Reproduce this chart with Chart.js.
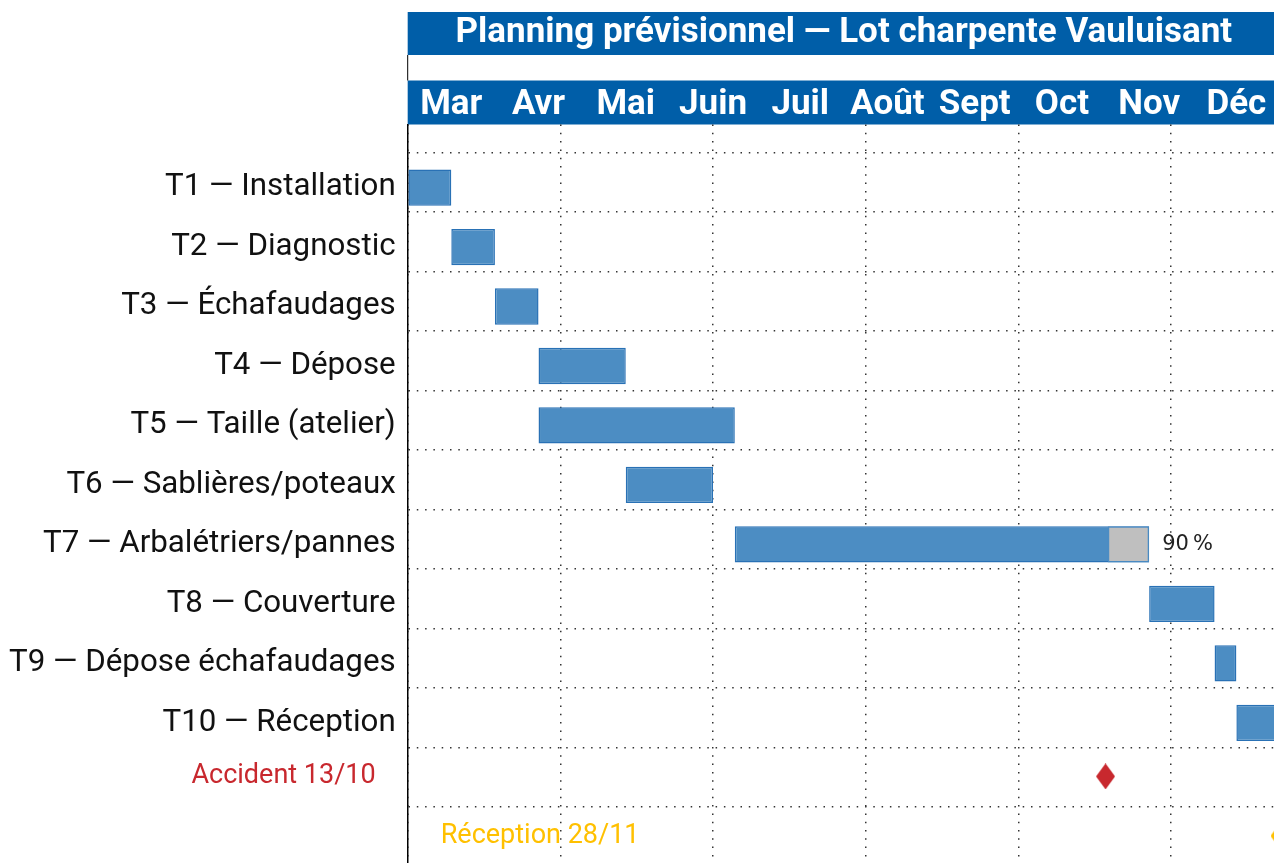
<!DOCTYPE html>
<html>
<head>
<meta charset="utf-8">
<script src="https://cdn.jsdelivr.net/npm/chart.js@4/dist/chart.umd.min.js"></script>
<style>
  html, body { margin: 0; padding: 0; overflow: hidden; background: #fff; }
</style>
</head>
<body>
<canvas id="gantt" width="1285" height="900"></canvas>
<script>
// DATA (axis unit = weeks from 1 March, 4 weeks per month column)
const title = 'Planning prévisionnel — Lot charpente Vauluisant';
const months = ['Mar', 'Avr', 'Mai', 'Juin', 'Juil', 'Août', 'Sept', 'Oct', 'Nov', 'Déc'];
const tasks = [
    'T1 — Installation',
    'T2 — Diagnostic',
    'T3 — Échafaudages',
    'T4 — Dépose',
    'T5 — Taille (atelier)',
    'T6 — Sablières/poteaux',
    'T7 — Arbalétriers/pannes',
    'T8 — Couverture',
    'T9 — Dépose échafaudages',
    'T10 — Réception',
];
const starts = [0, 2, 4, 6, 6, 10, 15, 34, 37, 38];
const ends = [2, 4, 6, 10, 15, 14, 34, 37, 38, 40];
const progress = [null, null, null, null, null, null, 0.9, null, null, null];

const accidentLabel = 'Accident 13/10';
const accidentWeek = 32;
const accidentRow = 9.9;
const receptionLabel = 'Réception 28/11';
const receptionWeek = 40;
const receptionRow = 10.9;

//------------------------------------------------------------------
// STYLE
Chart.defaults.font.family = 'Roboto';
const bandBlue = '#005EA8';
const barFill = 'rgb(76, 141, 195)';
const barEdge = 'rgb(41, 113, 181)';
const dotColor = '#333333';
const dots = [1.5, 6.8];
const red = '#C8282E';
const yellow = '#FFC000';

// row grid lines sit a bit above each bar row
const rowCount = tasks.length + 2;
const gridRows = [];
for (let k = 0; k < rowCount; k++) {
    gridRows.push(k - 0.59);
}

function diamond(color, w, h) {
    const c = document.createElement('canvas');
    c.width = w;
    c.height = h;
    const g = c.getContext('2d');
    g.fillStyle = color;
    g.beginPath();
    g.moveTo(w / 2, 0);
    g.lineTo(w, h / 2);
    g.lineTo(w / 2, h);
    g.lineTo(0, h / 2);
    g.closePath();
    g.fill();
    return c;
}

const taskBars = tasks.map((t, i) => ({ y: i, x: [starts[i], ends[i]] }));
const remainingBars = [];
progress.forEach((p, i) => {
    if (p !== null) {
        remainingBars.push({ y: i, x: [starts[i] + p * (ends[i] - starts[i]), ends[i]] });
    }
});

// blue header bands + free text labels
const ganttDecor = {
    id: 'ganttDecor',
    beforeDraw(chart) {
        const { ctx, chartArea } = chart;
        const top = chart.scales.x2;
        ctx.save();
        ctx.fillStyle = bandBlue;
        ctx.fillRect(chartArea.left, top.top, chartArea.width, 43);
        ctx.fillRect(chartArea.left, top.bottom - 44, chartArea.width, 44);
        ctx.strokeStyle = '#000';
        ctx.lineWidth = 1;
        ctx.beginPath();
        ctx.moveTo(chartArea.left, top.top + 43);
        ctx.lineTo(chartArea.left, top.bottom - 44);
        ctx.stroke();
        ctx.restore();
    },
    afterDraw(chart) {
        const { ctx, chartArea } = chart;
        const xs = chart.scales.x;
        const ys = chart.scales.y;
        ctx.save();
        ctx.textBaseline = 'middle';

        // progress label
        ctx.font = '21px "DejaVu Sans"';
        ctx.fillStyle = '#222';
        ctx.textAlign = 'left';
        progress.forEach((p, i) => {
            if (p !== null) {
                ctx.fillText(Math.round(p * 100) + '\u202F%', xs.getPixelForValue(ends[i]) + 13, ys.getPixelForValue(i));
            }
        });

        ctx.font = '27px Roboto';
        ctx.fillStyle = red;
        ctx.textAlign = 'right';
        ctx.fillText(accidentLabel, chartArea.left - 32, ys.getPixelForValue(accidentRow));

        ctx.fillStyle = yellow;
        ctx.textAlign = 'left';
        ctx.fillText(receptionLabel, chartArea.left + 33, ys.getPixelForValue(receptionRow));
        ctx.restore();
    }
};

const ctx = document.getElementById('gantt').getContext('2d');
const gantt = new Chart(ctx, {
    type: 'bar',
    data: {
        datasets: [
            {
                label: 'Reste',
                indexAxis: 'y',
                xAxisID: 'x',
                yAxisID: 'y',
                data: remainingBars,
                backgroundColor: '#BFBFBF',
                borderColor: 'rgba(76, 141, 195, 0.9)',
                borderWidth: 1.5,
                borderSkipped: false,
                grouped: false,
                categoryPercentage: 1,
                barPercentage: 0.61,
            },
            {
                label: 'Tâches',
                indexAxis: 'y',
                xAxisID: 'x',
                yAxisID: 'y',
                data: taskBars,
                backgroundColor: barFill,
                borderColor: barEdge,
                borderWidth: 1.5,
                borderSkipped: false,
                grouped: false,
                categoryPercentage: 1,
                barPercentage: 0.61,
            },
            {
                type: 'scatter',
                label: 'Accident',
                xAxisID: 'x',
                yAxisID: 'y',
                data: [{ x: accidentWeek, y: accidentRow }],
                pointStyle: diamond(red, 19, 26),
            },
            {
                type: 'scatter',
                label: 'Réception',
                xAxisID: 'x',
                yAxisID: 'y',
                data: [{ x: receptionWeek, y: receptionRow }],
                pointStyle: diamond(yellow, 19, 26),
            },
        ],
    },
    options: {
        responsive: false,
        animation: false,
        layout: {
            padding: { top: 12, left: -3, right: 0, bottom: 0 },
        },
        plugins: {
            legend: { display: false },
            tooltip: { enabled: false },
        },
        scales: {
            x: {
                type: 'linear',
                position: 'bottom',
                offset: false,
                min: 0,
                max: 40,
                ticks: { display: false, stepSize: 7 },
                grid: { offset: false, color: dotColor, lineWidth: 1.5, drawTicks: false },
                border: { display: false, dash: dots },
            },
            x2: {
                type: 'category',
                position: 'top',
                labels: months,
                offset: true,
                grid: { display: false, drawTicks: false },
                border: { display: false },
                ticks: {
                    color: '#fff',
                    font: { size: 35, weight: 'bold' },
                    padding: -1.5,
                    maxRotation: 0,
                    autoSkip: false,
                },
                title: {
                    display: true,
                    text: title,
                    color: '#fff',
                    font: { size: 35, weight: 'bold' },
                    padding: { top: 0, bottom: 31.5 },
                },
            },
            y: {
                type: 'linear',
                reverse: true,
                offset: false,
                min: -1.06,
                max: 11.46,
                afterBuildTicks: (scale) => {
                    scale.ticks = gridRows.map(v => ({ value: v }));
                },
                ticks: {
                    callback: (value, index) => tasks[index] || '',
                    labelOffset: 35,
                    padding: 12,
                    color: '#111',
                    font: { size: 31.3 },
                    autoSkip: false,
                },
                grid: { offset: false, color: dotColor, lineWidth: 1.5, drawTicks: false },
                border: { display: true, color: '#000', width: 1.5, dash: dots },
            },
        },
    },
    plugins: [ganttDecor],
});
</script>
</body>
</html>
